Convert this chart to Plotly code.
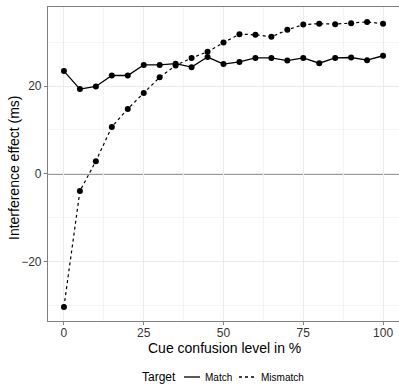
import plotly.graph_objects as go

# Cue confusion levels (%) and interference effects (ms) per target condition
confusion = [0, 5, 10, 15, 20, 25, 30, 35, 40, 45, 50, 55, 60, 65, 70, 75, 80, 85, 90, 95, 100]
match = [23.4, 19.3, 19.9, 22.4, 22.4, 24.8, 24.8, 25.1, 24.3, 26.6, 25.0, 25.5, 26.4, 26.4,
         25.8, 26.4, 25.2, 26.4, 26.5, 25.9, 26.9]
mismatch = [-30.3, -3.9, 2.9, 10.7, 14.8, 18.4, 22.0, 24.7, 26.4, 27.8, 29.9, 31.8, 31.7, 31.2,
            32.8, 34.0, 34.2, 34.1, 34.3, 34.6, 34.2]

x_ticks = [0, 25, 50, 75, 100]
y_ticks = [-20, 0, 20]

W, H = 399, 384
L, R, T, B = 48, 399, 7, 321  # plot area in pixels

FONT = "Liberation Sans, Arial, Helvetica, sans-serif"


def px(x):
    return (x - L) / (R - L)


def py(y):
    return (B - y) / (B - T)


fig = go.Figure()

fig.add_trace(go.Scatter(
    x=confusion, y=mismatch, mode="lines+markers", name="Mismatch",
    line=dict(color="black", width=1.2, dash="dot"),
    marker=dict(color="black", size=6),
))
fig.add_trace(go.Scatter(
    x=confusion, y=match, mode="lines+markers", name="Match",
    line=dict(color="black", width=1.3),
    marker=dict(color="black", size=6),
))

# reference line at zero
fig.add_hline(y=0, line=dict(color="#7a7a7a", width=1.5), layer="below")

axis_common = dict(
    showgrid=True, gridcolor="#ebebeb", gridwidth=1,
    zeroline=False, showline=True, mirror=True, linecolor="#7f7f7f", linewidth=1.2,
    ticks="outside", ticklen=3, tickcolor="#7f7f7f", tickwidth=1,
    tickfont=dict(family=FONT, size=12, color="#333333"),
)

fig.update_xaxes(
    range=[-5, 105], tickvals=x_ticks, ticklabelstandoff=-3,
    minor=dict(tickvals=[12.5, 37.5, 62.5, 87.5], showgrid=True, gridcolor="#f4f4f4", ticks=""),
    **axis_common,
)
fig.update_yaxes(
    range=[-33.5, 38], tickvals=y_ticks, ticktext=["\u221220", "0", "20"],
    minor=dict(tickvals=[-30, -10, 10, 30], showgrid=True, gridcolor="#f4f4f4", ticks=""),
    **axis_common,
)

# axis titles
fig.add_annotation(x=px(224), y=py(348), xref="paper", yref="paper", text="Cue confusion level in %",
                   showarrow=False, xanchor="center", yanchor="middle",
                   font=dict(family=FONT, size=14, color="black"))
fig.add_annotation(x=px(14), y=py(168), xref="paper", yref="paper", text="Interference effect (ms)",
                   showarrow=False, xanchor="center", yanchor="middle", textangle=-90,
                   font=dict(family=FONT, size=14, color="black"))

# legend drawn below the plot
ly = py(377)
fig.add_annotation(x=px(140), y=ly, xref="paper", yref="paper", text="Target", showarrow=False,
                   xanchor="left", yanchor="middle", font=dict(family=FONT, size=12, color="black"))
fig.add_shape(type="line", xref="paper", yref="paper", x0=px(184), x1=px(200), y0=ly, y1=ly,
              line=dict(color="black", width=1.3))
fig.add_annotation(x=px(203), y=ly, xref="paper", yref="paper", text="Match", showarrow=False,
                   xanchor="left", yanchor="middle", font=dict(family=FONT, size=10, color="black"))
fig.add_shape(type="line", xref="paper", yref="paper", x0=px(239), x1=px(257), y0=ly, y1=ly,
              line=dict(color="black", width=1.3, dash="dot"))
fig.add_annotation(x=px(259), y=ly, xref="paper", yref="paper", text="Mismatch", showarrow=False,
                   xanchor="left", yanchor="middle", font=dict(family=FONT, size=10, color="black"))

fig.update_layout(
    width=W, height=H,
    margin=dict(l=L, r=W - R, t=T, b=H - B, pad=0),
    plot_bgcolor="white", paper_bgcolor="white",
    showlegend=False,
    font=dict(family=FONT),
)

fig.write_html("out.html")
